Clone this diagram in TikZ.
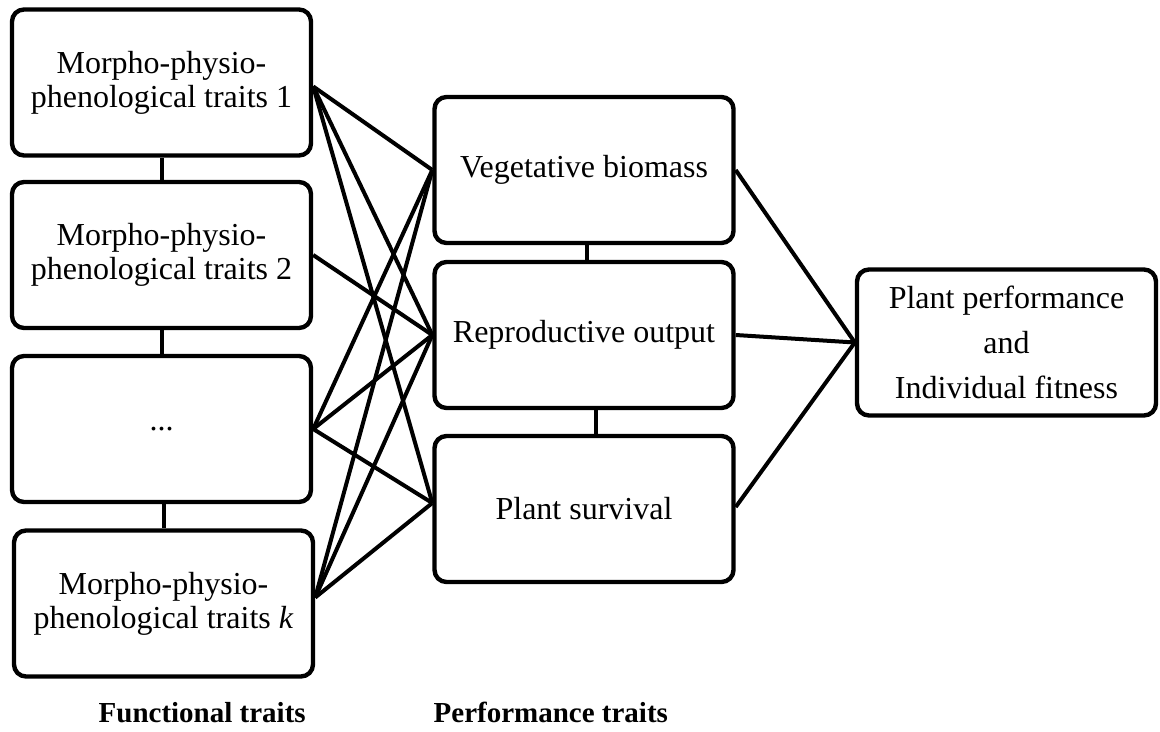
\documentclass[tikz,border=0pt]{standalone}
\usepackage{fontspec}
\setmainfont{Liberation Serif}
\usepackage{tikz}

\begin{document}
\begin{tikzpicture}[%
    x=0.5pt, y=-0.5pt, % Pixelmaße
    font=\fontsize{16}{17}\selectfont,
    line width=2pt
    ]
        \useasboundingbox (0,0) rectangle (1160,732);

        \tikzset{
            Kasten/.style={draw, line width=2.2pt, rounded corners=6pt, align=center,
                inner sep=0pt, minimum width=149.5pt, minimum height=73pt}, % für Kästen
            Titel/.style={anchor=base west, font=\fontsize{14.5}{17}\selectfont\bfseries} % für Überschriften
        }

        % Funktionelle Merkmale
        \node[Kasten] (F1) at (161.5,82.5) {Morpho-physio-\\phenological traits 1};
        \node[Kasten] (F2) at (161.5,255) {Morpho-physio-\\phenological traits 2};
        \node[Kasten] (F3) at (161.5,429) {...};
        \node[Kasten] (F4) at (163.5,603.5) {Morpho-physio-\\phenological traits \textit{k}};

        % Leistungsmerkmale
        \node[Kasten] (VB) at (584,170) {Vegetative biomass};
        \node[Kasten] (RO) at (584,335) {Reproductive output};
        \node[Kasten] (PS) at (584,509) {Plant survival};

        % Fitness
        \node[Kasten, font=\fontsize{16}{22.5}\selectfont] (PP) at (1006.5,342.5)
            {Plant performance\\and\\Individual fitness};

        % Anschlusspunkte
        \coordinate (F1r) at ([yshift=-2pt]F1.east);
        \coordinate (F3r) at (F3.east);
        \coordinate (F4r) at ([yshift=3pt]F4.east);
        \coordinate (PSl) at ([yshift=3pt]PS.west);
        \coordinate (PSr) at ([yshift=1pt]PS.east);

        % Leiter
        \draw   (F1.south) -- (F2.north)
                (F2.south) -- (F3.north)
                ([xshift=1pt]F3.south) -- (F4.north)
                ([xshift=1.5pt]VB.south) -- ([xshift=1.5pt]RO.north)
                ([xshift=6pt]RO.south) -- ([xshift=6pt]PS.north);

        \foreach \f in {F1r,F3r,F4r}
            \foreach \p in {VB.west,RO.west,PSl}
                \draw (\f) -- (\p);
        \draw (F2.east) -- (RO.west);

        \foreach \p in {VB.east,RO.east,PSr}
            \draw (\p) -- (PP.west);

        % Beschriftung
        \node[Titel] (FT) at (90,722) {Functional traits};
        \node[Titel] (PT) at (425,722) {Performance traits};
    \end{tikzpicture}
\end{document}
